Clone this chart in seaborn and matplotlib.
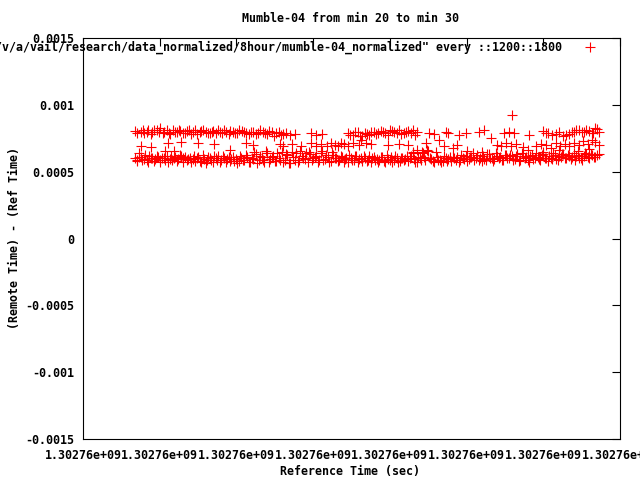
import matplotlib

matplotlib.use("Agg")
import matplotlib.pyplot as plt
import pandas as pd
import seaborn as sns
from matplotlib.ticker import FuncFormatter, MultipleLocator


T0 = 1302762000  # start of the x range (s)

# lower band: seconds after T0, offset in microseconds
lower_t = [
    68, 71, 75, 79, 83, 86, 90, 94, 98, 101,
    105, 109, 113, 116, 120, 124, 128, 131, 135, 139,
    143, 146, 150, 154, 158, 161, 165, 169, 173, 176,
    180, 184, 188, 191, 195, 199, 203, 206, 210, 214,
    218, 221, 225, 229, 233, 236, 240, 244, 248, 251,
    255, 259, 263, 266, 270, 274, 278, 281, 285, 289,
    293, 296, 300, 304, 308, 311, 315, 319, 323, 326,
    330, 334, 338, 341, 345, 349, 353, 356, 360, 364,
    368, 371, 375, 379, 383, 386, 390, 394, 398, 401,
    405, 409, 413, 416, 420, 424, 428, 431, 435, 439,
    443, 446, 450, 454, 458, 461, 465, 469, 473, 476,
    480, 484, 488, 491, 495, 499, 503, 506, 510, 514,
    518, 521, 525, 529, 533, 536, 540, 544, 548, 551,
    555, 559, 563, 566, 570, 574, 578, 581, 585, 589,
    593, 596, 600, 604, 608, 611, 615, 619, 623, 626,
    630, 634, 638, 641, 645, 649, 653, 656, 660, 664,
    668, 672,
]
lower_us = [
    600, 585, 612, 598, 590, 620, 605, 593, 610, 588,
    602, 615, 596, 585, 607, 592, 618, 600, 589, 604,
    596, 583, 610, 575, 598, 590, 605, 572, 600, 615,
    587, 604, 593, 578, 610, 596, 583, 601, 590, 612,
    575, 598, 630, 585, 612, 570, 640, 595, 620, 580,
    605, 650, 590, 625, 568, 610, 640, 585, 620, 598,
    570, 632, 600, 615, 585, 655, 595, 610, 578, 625,
    600, 585, 612, 592, 570, 605, 588, 615, 596, 580,
    603, 590, 575, 612, 598, 585, 607, 572, 595, 610,
    588, 600, 578, 605, 592, 583, 615, 598, 575, 601,
    640, 585, 655, 598, 570, 610, 590, 580, 603, 595,
    582, 600, 612, 590, 605, 620, 595, 610, 585, 625,
    600, 615, 590, 630, 605, 595, 620, 610, 588, 625,
    605, 615, 598, 630, 590, 620, 608, 575, 625, 600,
    612, 590, 630, 605, 618, 595, 625, 585, 610, 632,
    600, 620, 612, 590, 628, 605, 618, 630, 600, 622,
    610, 635,
]

# second pass through the lower band (rows in between)
lower2_t = [
    70, 73, 77, 81, 85, 88, 92, 96, 100, 103,
    107, 111, 115, 118, 122, 126, 130, 133, 137, 141,
    145, 148, 152, 156, 160, 163, 167, 171, 175, 178,
    182, 186, 190, 193, 197, 201, 205, 208, 212, 216,
    220, 223, 227, 231, 235, 238, 242, 246, 250, 253,
    257, 261, 265, 268, 272, 276, 280, 283, 287, 291,
    295, 298, 302, 306, 310, 313, 317, 321, 325, 328,
    332, 336, 340, 343, 347, 351, 355, 358, 362, 366,
    370, 373, 377, 381, 385, 388, 392, 396, 400, 403,
    407, 411, 415, 418, 422, 426, 430, 433, 437, 441,
    445, 448, 452, 456, 460, 463, 467, 471, 475, 478,
    482, 486, 490, 493, 497, 501, 505, 508, 512, 516,
    520, 523, 527, 531, 535, 538, 542, 546, 550, 553,
    557, 561, 565, 568, 572, 576, 580, 583, 587, 591,
    595, 598, 602, 606, 610, 613, 617, 621, 625, 628,
    632, 636, 640, 643, 647, 651, 655, 658, 662, 666,
    670,
]
lower2_us = [
    578, 612, 590, 625, 570, 600, 582, 618, 574, 605,
    585, 572, 620, 602, 580, 628, 576, 612, 598, 570,
    615, 600, 580, 622, 568, 610, 588, 620, 584, 572,
    620, 575, 612, 598, 580, 568, 615, 585, 622, 575,
    605, 645, 568, 615, 590, 652, 575, 610, 580, 640,
    585, 575, 630, 568, 645, 590, 572, 655, 600, 640,
    650, 585, 612, 570, 640, 590, 628, 575, 645, 605,
    582, 615, 572, 605, 625, 585, 615, 570, 605, 620,
    580, 618, 600, 585, 570, 612, 580, 622, 590, 575,
    615, 575, 600, 585, 620, 605, 640, 575, 612, 585,
    612, 660, 600, 580, 648, 585, 570, 620, 578, 612,
    610, 588, 575, 628, 595, 580, 612, 640, 600, 585,
    582, 595, 632, 605, 578, 640, 600, 585, 625, 600,
    625, 590, 615, 580, 640, 602, 585, 620, 595, 640,
    595, 625, 605, 580, 600, 640, 598, 620, 635, 605,
    625, 598, 640, 620, 605, 585, 640, 608, 632, 610,
    625,
]

# upper band
upper_t = [
    68, 75, 80, 85, 90, 96, 101, 106, 112, 117,
    122, 127, 133, 138, 143, 149, 154, 160, 165, 170,
    176, 181, 187, 192, 198, 204, 210, 216, 222, 228,
    234, 240, 246, 252, 258, 264, 270, 276, 297, 304,
    311, 345, 352, 358, 364, 370, 376, 382, 388, 394,
    400, 406, 412, 418, 424, 430, 436, 451, 457, 473,
    476, 490, 499, 516, 523, 532, 549, 555, 562, 582,
    600, 606, 617, 626, 630, 637, 643, 650, 656, 663,
    668, 672,
    71, 78, 83, 88, 93, 99, 104, 109, 114, 120,
    125, 130, 136, 141, 146, 152, 157, 163, 168, 173,
    179, 184, 190, 195, 201, 207, 213, 219, 225, 231,
    237, 243, 249, 255, 261, 348, 355, 361, 367, 373,
    379, 385, 391, 397, 403, 409, 415, 421, 427, 433,
    603, 611, 621, 633, 640, 647, 653, 660, 665, 670,
]
upper_us = [
    805, 800, 792, 808, 796, 812, 826, 798, 790, 815,
    795, 803, 788, 810, 797, 784, 806, 799, 791, 803,
    808, 786, 799, 804, 792, 810, 795, 783, 800, 789,
    800, 780, 795, 786, 775, 790, 772, 785, 790, 778,
    785, 790, 775, 800, 770, 785, 795, 780, 805, 790,
    812, 798, 808, 790, 805, 815, 798, 790, 782, 794,
    788, 776, 790, 800, 812, 752, 790, 795, 790, 775,
    805, 792, 785, 765, 775, 800, 808, 795, 815, 790,
    830, 800,
    792, 815, 800, 785, 810, 795, 790, 808, 783, 800,
    812, 790, 802, 780, 808, 795, 812, 786, 800, 792,
    795, 810, 782, 800, 790, 805, 788, 798, 780, 808,
    790, 802, 770, 795, 782, 778, 795, 768, 790, 778,
    800, 788, 795, 776, 803, 790, 782, 800, 792, 776,
    790, 775, 800, 785, 795, 810, 800, 805, 790, 820,
]

# points between the two bands
middle_t = [
    75, 88, 111, 128, 150, 171, 212, 73, 107, 118,
    192, 222, 257, 261, 273, 284, 297, 304, 310, 318,
    323, 328, 332, 336, 340, 345, 352, 360, 363, 369,
    375, 397, 412, 424, 447, 464, 470, 482, 488, 540,
    545, 552, 558, 565, 573, 590, 597, 604, 610, 616,
    622, 628, 634, 640, 646, 652, 658, 663, 668, 672,
    430, 436, 442, 500, 520, 580, 600, 620, 645, 660,
    559,
]
middle_us = [
    692, 684, 714, 722, 714, 707, 714, 640, 657, 657,
    662, 700, 710, 690, 705, 690, 715, 695, 705, 690,
    712, 700, 690, 718, 705, 695, 712, 700, 737, 714,
    705, 700, 707, 700, 714, 737, 690, 680, 700, 700,
    690, 712, 695, 705, 685, 690, 710, 700, 680, 712,
    695, 705, 690, 715, 700, 730, 710, 740, 725, 700,
    650, 660, 645, 655, 645, 660, 650, 665, 655, 670,
    924,
]

LEGEND_LABEL = '"/v/a/vail/research/data_normalized/8hour/mumble-04_normalized" every ::1200::1800'
TITLE = "Mumble-04 from min 20 to min 30"
X_LABEL = "Reference Time (sec)"
Y_LABEL = "(Remote Time) - (Ref Time)"

FONT = {"family": "DejaVu Sans Mono", "weight": "bold", "size": 8.4, "color": "black"}
LEGEND_FONT = {"family": "DejaVu Sans Mono", "weight": "bold", "size": 8.4}


def build_frame() -> pd.DataFrame:
    t = lower_t + lower2_t + upper_t + middle_t
    us = lower_us + lower2_us + upper_us + middle_us
    return pd.DataFrame(
        {
            "time": [T0 + v for v in t],
            "offset": [v * 1e-6 for v in us],
        }
    ).sort_values("time")


def main() -> None:
    sns.set_style("white")
    plt.rcParams["font.family"] = ["DejaVu Sans Mono"]
    plt.rcParams["text.color"] = "black"

    frame = build_frame()
    fig = plt.figure(figsize=(6.4, 4.8), dpi=100)
    ax = fig.add_axes([83 / 640, 41 / 480, 537 / 640, 401 / 480])

    sns.scatterplot(
        data=frame,
        x="time",
        y="offset",
        marker="+",
        s=48,
        color="#ff0000",
        linewidth=0.8,
        label=LEGEND_LABEL,
        ax=ax,
    )

    ax.set_xlim(T0, T0 + 700)
    ax.set_ylim(-0.0015, 0.0015)
    ax.xaxis.set_major_locator(MultipleLocator(100))
    ax.yaxis.set_major_locator(MultipleLocator(0.0005))
    ax.xaxis.set_major_formatter(FuncFormatter(lambda v, _: f"{v:g}"))
    ax.yaxis.set_major_formatter(
        FuncFormatter(lambda v, _: "0" if abs(v) < 1e-12 else f"{v:g}")
    )
    ax.tick_params(
        direction="in", length=6, width=0.8, top=True, right=True,
        labelsize=FONT["size"], colors="black",
    )
    ax.tick_params(axis="x", pad=7)
    ax.tick_params(axis="y", pad=6)
    for label in ax.get_xticklabels() + ax.get_yticklabels():
        label.set_fontweight("bold")
    for spine in ax.spines.values():
        spine.set_color("black")
        spine.set_linewidth(0.8)

    ax.set_xlabel("")
    ax.set_ylabel("")
    fig.text(350 / 640, 1 - 18 / 480, TITLE, ha="center", va="center", fontdict=FONT)
    fig.text(350 / 640, 1 - 472 / 480, X_LABEL, ha="center", va="center", fontdict=FONT)
    fig.text(15 / 640, 1 - 238 / 480, Y_LABEL, ha="center", va="center",
             rotation=90, fontdict=FONT)

    leg = ax.legend(
        loc="upper right",
        bbox_to_anchor=(1 - 10 / 537, 1 + 6 / 401),
        frameon=False,
        markerfirst=False,
        prop=LEGEND_FONT,
        handletextpad=1.4,
        borderaxespad=0.3,
    )
    for text in leg.get_texts():
        text.set_color("black")

    fig.savefig("out.png", dpi=100)
    plt.close(fig)


if __name__ == "__main__":
    main()
